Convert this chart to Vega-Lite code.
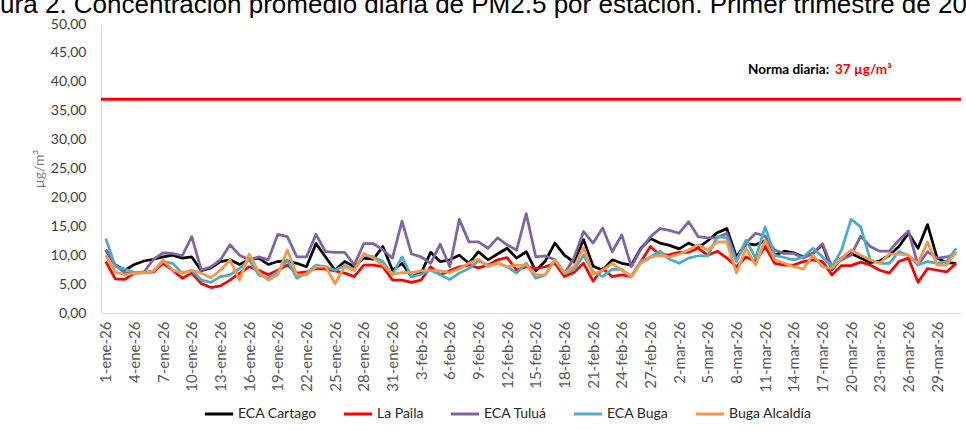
{
  "$schema": "https://vega.github.io/schema/vega-lite/v6.json",
  "width": 860,
  "height": 289,
  "autosize": {"type": "none"},
  "padding": {"left": 101, "top": 24, "right": 5, "bottom": 118},
  "background": "white",
  "title": {
    "text": "Figura 2. Concentración promedio diaria de PM2.5 por estación. Primer trimestre de 2026",
    "anchor": "start",
    "frame": "group",
    "font": "Liberation Sans",
    "fontSize": 26,
    "fontWeight": "normal",
    "color": "#000000",
    "offset": -1,
    "dx": -137
  },
  "config": {
    "view": {"stroke": null},
    "font": "Lato"
  },
  "data": {
    "values": [
      {"fecha":"1-ene-26","estacion":"ECA Cartago","valor":10.9},{"fecha":"2-ene-26","estacion":"ECA Cartago","valor":8.3},{"fecha":"3-ene-26","estacion":"ECA Cartago","valor":7.4},{"fecha":"4-ene-26","estacion":"ECA Cartago","valor":8.4},{"fecha":"5-ene-26","estacion":"ECA Cartago","valor":9.0},{"fecha":"6-ene-26","estacion":"ECA Cartago","valor":9.3},{"fecha":"7-ene-26","estacion":"ECA Cartago","valor":9.7},{"fecha":"8-ene-26","estacion":"ECA Cartago","valor":10.0},{"fecha":"9-ene-26","estacion":"ECA Cartago","valor":9.5},{"fecha":"10-ene-26","estacion":"ECA Cartago","valor":9.7},
      {"fecha":"11-ene-26","estacion":"ECA Cartago","valor":7.3},{"fecha":"12-ene-26","estacion":"ECA Cartago","valor":7.8},{"fecha":"13-ene-26","estacion":"ECA Cartago","valor":8.9},{"fecha":"14-ene-26","estacion":"ECA Cartago","valor":9.2},{"fecha":"15-ene-26","estacion":"ECA Cartago","valor":8.4},{"fecha":"16-ene-26","estacion":"ECA Cartago","valor":9.2},{"fecha":"17-ene-26","estacion":"ECA Cartago","valor":9.5},{"fecha":"18-ene-26","estacion":"ECA Cartago","valor":8.4},{"fecha":"19-ene-26","estacion":"ECA Cartago","valor":8.9},{"fecha":"20-ene-26","estacion":"ECA Cartago","valor":9.0},
      {"fecha":"21-ene-26","estacion":"ECA Cartago","valor":8.6},{"fecha":"22-ene-26","estacion":"ECA Cartago","valor":8.0},{"fecha":"23-ene-26","estacion":"ECA Cartago","valor":12.0},{"fecha":"24-ene-26","estacion":"ECA Cartago","valor":9.7},{"fecha":"25-ene-26","estacion":"ECA Cartago","valor":7.4},{"fecha":"26-ene-26","estacion":"ECA Cartago","valor":8.9},{"fecha":"27-ene-26","estacion":"ECA Cartago","valor":8.0},{"fecha":"28-ene-26","estacion":"ECA Cartago","valor":9.5},{"fecha":"29-ene-26","estacion":"ECA Cartago","valor":9.3},{"fecha":"30-ene-26","estacion":"ECA Cartago","valor":11.5},
      {"fecha":"31-ene-26","estacion":"ECA Cartago","valor":7.4},{"fecha":"1-feb-26","estacion":"ECA Cartago","valor":8.6},{"fecha":"2-feb-26","estacion":"ECA Cartago","valor":6.3},{"fecha":"3-feb-26","estacion":"ECA Cartago","valor":6.9},{"fecha":"4-feb-26","estacion":"ECA Cartago","valor":10.5},{"fecha":"5-feb-26","estacion":"ECA Cartago","valor":8.9},{"fecha":"6-feb-26","estacion":"ECA Cartago","valor":9.2},{"fecha":"7-feb-26","estacion":"ECA Cartago","valor":10.0},{"fecha":"8-feb-26","estacion":"ECA Cartago","valor":8.6},{"fecha":"9-feb-26","estacion":"ECA Cartago","valor":10.6},
      {"fecha":"10-feb-26","estacion":"ECA Cartago","valor":9.2},{"fecha":"11-feb-26","estacion":"ECA Cartago","valor":10.2},{"fecha":"12-feb-26","estacion":"ECA Cartago","valor":11.2},{"fecha":"13-feb-26","estacion":"ECA Cartago","valor":9.5},{"fecha":"14-feb-26","estacion":"ECA Cartago","valor":10.6},{"fecha":"15-feb-26","estacion":"ECA Cartago","valor":7.3},{"fecha":"16-feb-26","estacion":"ECA Cartago","valor":9.0},{"fecha":"17-feb-26","estacion":"ECA Cartago","valor":12.1},{"fecha":"18-feb-26","estacion":"ECA Cartago","valor":10.0},{"fecha":"19-feb-26","estacion":"ECA Cartago","valor":8.8},
      {"fecha":"20-feb-26","estacion":"ECA Cartago","valor":12.7},{"fecha":"21-feb-26","estacion":"ECA Cartago","valor":8.1},{"fecha":"22-feb-26","estacion":"ECA Cartago","valor":7.4},{"fecha":"23-feb-26","estacion":"ECA Cartago","valor":9.2},{"fecha":"24-feb-26","estacion":"ECA Cartago","valor":8.6},{"fecha":"25-feb-26","estacion":"ECA Cartago","valor":8.3},{"fecha":"26-feb-26","estacion":"ECA Cartago","valor":11.2},{"fecha":"27-feb-26","estacion":"ECA Cartago","valor":12.9},{"fecha":"28-feb-26","estacion":"ECA Cartago","valor":12.1},{"fecha":"1-mar-26","estacion":"ECA Cartago","valor":11.7},
      {"fecha":"2-mar-26","estacion":"ECA Cartago","valor":11.1},{"fecha":"3-mar-26","estacion":"ECA Cartago","valor":12.1},{"fecha":"4-mar-26","estacion":"ECA Cartago","valor":11.3},{"fecha":"5-mar-26","estacion":"ECA Cartago","valor":12.5},{"fecha":"6-mar-26","estacion":"ECA Cartago","valor":13.9},{"fecha":"7-mar-26","estacion":"ECA Cartago","valor":14.6},{"fecha":"8-mar-26","estacion":"ECA Cartago","valor":9.7},{"fecha":"9-mar-26","estacion":"ECA Cartago","valor":12.0},{"fecha":"10-mar-26","estacion":"ECA Cartago","valor":11.8},{"fecha":"11-mar-26","estacion":"ECA Cartago","valor":12.5},
      {"fecha":"12-mar-26","estacion":"ECA Cartago","valor":10.0},{"fecha":"13-mar-26","estacion":"ECA Cartago","valor":10.7},{"fecha":"14-mar-26","estacion":"ECA Cartago","valor":10.4},{"fecha":"15-mar-26","estacion":"ECA Cartago","valor":9.7},{"fecha":"16-mar-26","estacion":"ECA Cartago","valor":10.3},{"fecha":"17-mar-26","estacion":"ECA Cartago","valor":11.8},{"fecha":"18-mar-26","estacion":"ECA Cartago","valor":7.5},{"fecha":"19-mar-26","estacion":"ECA Cartago","valor":9.5},{"fecha":"20-mar-26","estacion":"ECA Cartago","valor":10.3},{"fecha":"21-mar-26","estacion":"ECA Cartago","valor":9.5},
      {"fecha":"22-mar-26","estacion":"ECA Cartago","valor":8.7},{"fecha":"23-mar-26","estacion":"ECA Cartago","valor":9.0},{"fecha":"24-mar-26","estacion":"ECA Cartago","valor":10.0},{"fecha":"25-mar-26","estacion":"ECA Cartago","valor":11.5},{"fecha":"26-mar-26","estacion":"ECA Cartago","valor":13.8},{"fecha":"27-mar-26","estacion":"ECA Cartago","valor":11.2},{"fecha":"28-mar-26","estacion":"ECA Cartago","valor":15.3},{"fecha":"29-mar-26","estacion":"ECA Cartago","valor":9.5},{"fecha":"30-mar-26","estacion":"ECA Cartago","valor":8.7},{"fecha":"31-mar-26","estacion":"ECA Cartago","valor":8.6},

      {"fecha":"1-ene-26","estacion":"La Paila","valor":8.9},{"fecha":"2-ene-26","estacion":"La Paila","valor":5.9},{"fecha":"3-ene-26","estacion":"La Paila","valor":5.8},{"fecha":"4-ene-26","estacion":"La Paila","valor":6.9},{"fecha":"5-ene-26","estacion":"La Paila","valor":7.0},{"fecha":"6-ene-26","estacion":"La Paila","valor":7.1},{"fecha":"7-ene-26","estacion":"La Paila","valor":8.6},{"fecha":"8-ene-26","estacion":"La Paila","valor":7.4},{"fecha":"9-ene-26","estacion":"La Paila","valor":6.0},{"fecha":"10-ene-26","estacion":"La Paila","valor":6.9},
      {"fecha":"11-ene-26","estacion":"La Paila","valor":5.1},{"fecha":"12-ene-26","estacion":"La Paila","valor":4.4},{"fecha":"13-ene-26","estacion":"La Paila","valor":4.7},{"fecha":"14-ene-26","estacion":"La Paila","valor":5.7},{"fecha":"15-ene-26","estacion":"La Paila","valor":6.9},{"fecha":"16-ene-26","estacion":"La Paila","valor":8.0},{"fecha":"17-ene-26","estacion":"La Paila","valor":7.4},{"fecha":"18-ene-26","estacion":"La Paila","valor":6.6},{"fecha":"19-ene-26","estacion":"La Paila","valor":7.4},{"fecha":"20-ene-26","estacion":"La Paila","valor":8.3},
      {"fecha":"21-ene-26","estacion":"La Paila","valor":6.9},{"fecha":"22-ene-26","estacion":"La Paila","valor":7.1},{"fecha":"23-ene-26","estacion":"La Paila","valor":7.7},{"fecha":"24-ene-26","estacion":"La Paila","valor":7.6},{"fecha":"25-ene-26","estacion":"La Paila","valor":7.3},{"fecha":"26-ene-26","estacion":"La Paila","valor":6.9},{"fecha":"27-ene-26","estacion":"La Paila","valor":6.3},{"fecha":"28-ene-26","estacion":"La Paila","valor":8.3},{"fecha":"29-ene-26","estacion":"La Paila","valor":8.3},{"fecha":"30-ene-26","estacion":"La Paila","valor":8.0},
      {"fecha":"31-ene-26","estacion":"La Paila","valor":5.7},{"fecha":"1-feb-26","estacion":"La Paila","valor":5.7},{"fecha":"2-feb-26","estacion":"La Paila","valor":5.3},{"fecha":"3-feb-26","estacion":"La Paila","valor":5.7},{"fecha":"4-feb-26","estacion":"La Paila","valor":8.0},{"fecha":"5-feb-26","estacion":"La Paila","valor":6.6},{"fecha":"6-feb-26","estacion":"La Paila","valor":7.3},{"fecha":"7-feb-26","estacion":"La Paila","valor":8.0},{"fecha":"8-feb-26","estacion":"La Paila","valor":8.3},{"fecha":"9-feb-26","estacion":"La Paila","valor":7.8},
      {"fecha":"10-feb-26","estacion":"La Paila","valor":8.3},{"fecha":"11-feb-26","estacion":"La Paila","valor":9.2},{"fecha":"12-feb-26","estacion":"La Paila","valor":9.6},{"fecha":"13-feb-26","estacion":"La Paila","valor":7.4},{"fecha":"14-feb-26","estacion":"La Paila","valor":8.0},{"fecha":"15-feb-26","estacion":"La Paila","valor":7.7},{"fecha":"16-feb-26","estacion":"La Paila","valor":8.0},{"fecha":"17-feb-26","estacion":"La Paila","valor":8.6},{"fecha":"18-feb-26","estacion":"La Paila","valor":6.3},{"fecha":"19-feb-26","estacion":"La Paila","valor":7.0},
      {"fecha":"20-feb-26","estacion":"La Paila","valor":8.6},{"fecha":"21-feb-26","estacion":"La Paila","valor":5.5},{"fecha":"22-feb-26","estacion":"La Paila","valor":7.7},{"fecha":"23-feb-26","estacion":"La Paila","valor":6.3},{"fecha":"24-feb-26","estacion":"La Paila","valor":6.6},{"fecha":"25-feb-26","estacion":"La Paila","valor":6.3},{"fecha":"26-feb-26","estacion":"La Paila","valor":8.9},{"fecha":"27-feb-26","estacion":"La Paila","valor":11.5},{"fecha":"28-feb-26","estacion":"La Paila","valor":10.0},{"fecha":"1-mar-26","estacion":"La Paila","valor":10.1},
      {"fecha":"2-mar-26","estacion":"La Paila","valor":10.5},{"fecha":"3-mar-26","estacion":"La Paila","valor":10.5},{"fecha":"4-mar-26","estacion":"La Paila","valor":11.2},{"fecha":"5-mar-26","estacion":"La Paila","valor":10.0},{"fecha":"6-mar-26","estacion":"La Paila","valor":10.7},{"fecha":"7-mar-26","estacion":"La Paila","valor":9.5},{"fecha":"8-mar-26","estacion":"La Paila","valor":8.0},{"fecha":"9-mar-26","estacion":"La Paila","valor":9.7},{"fecha":"10-mar-26","estacion":"La Paila","valor":8.9},{"fecha":"11-mar-26","estacion":"La Paila","valor":11.5},
      {"fecha":"12-mar-26","estacion":"La Paila","valor":8.6},{"fecha":"13-mar-26","estacion":"La Paila","valor":8.3},{"fecha":"14-mar-26","estacion":"La Paila","valor":8.3},{"fecha":"15-mar-26","estacion":"La Paila","valor":8.9},{"fecha":"16-mar-26","estacion":"La Paila","valor":9.2},{"fecha":"17-mar-26","estacion":"La Paila","valor":8.9},{"fecha":"18-mar-26","estacion":"La Paila","valor":6.6},{"fecha":"19-mar-26","estacion":"La Paila","valor":8.2},{"fecha":"20-mar-26","estacion":"La Paila","valor":8.2},{"fecha":"21-mar-26","estacion":"La Paila","valor":8.8},
      {"fecha":"22-mar-26","estacion":"La Paila","valor":8.3},{"fecha":"23-mar-26","estacion":"La Paila","valor":7.4},{"fecha":"24-mar-26","estacion":"La Paila","valor":6.9},{"fecha":"25-mar-26","estacion":"La Paila","valor":8.9},{"fecha":"26-mar-26","estacion":"La Paila","valor":9.5},{"fecha":"27-mar-26","estacion":"La Paila","valor":5.3},{"fecha":"28-mar-26","estacion":"La Paila","valor":7.7},{"fecha":"29-mar-26","estacion":"La Paila","valor":7.4},{"fecha":"30-mar-26","estacion":"La Paila","valor":7.1},{"fecha":"31-mar-26","estacion":"La Paila","valor":8.6},

      {"fecha":"1-ene-26","estacion":"ECA Tuluá","valor":11.0},{"fecha":"2-ene-26","estacion":"ECA Tuluá","valor":8.3},{"fecha":"3-ene-26","estacion":"ECA Tuluá","valor":6.9},{"fecha":"4-ene-26","estacion":"ECA Tuluá","valor":7.0},{"fecha":"5-ene-26","estacion":"ECA Tuluá","valor":7.1},{"fecha":"6-ene-26","estacion":"ECA Tuluá","valor":9.3},{"fecha":"7-ene-26","estacion":"ECA Tuluá","valor":10.4},{"fecha":"8-ene-26","estacion":"ECA Tuluá","valor":10.3},{"fecha":"9-ene-26","estacion":"ECA Tuluá","valor":9.9},{"fecha":"10-ene-26","estacion":"ECA Tuluá","valor":13.2},
      {"fecha":"11-ene-26","estacion":"ECA Tuluá","valor":7.4},{"fecha":"12-ene-26","estacion":"ECA Tuluá","valor":8.0},{"fecha":"13-ene-26","estacion":"ECA Tuluá","valor":9.2},{"fecha":"14-ene-26","estacion":"ECA Tuluá","valor":11.8},{"fecha":"15-ene-26","estacion":"ECA Tuluá","valor":10.0},{"fecha":"16-ene-26","estacion":"ECA Tuluá","valor":9.2},{"fecha":"17-ene-26","estacion":"ECA Tuluá","valor":9.7},{"fecha":"18-ene-26","estacion":"ECA Tuluá","valor":9.2},{"fecha":"19-ene-26","estacion":"ECA Tuluá","valor":13.6},{"fecha":"20-ene-26","estacion":"ECA Tuluá","valor":13.2},
      {"fecha":"21-ene-26","estacion":"ECA Tuluá","valor":9.7},{"fecha":"22-ene-26","estacion":"ECA Tuluá","valor":9.7},{"fecha":"23-ene-26","estacion":"ECA Tuluá","valor":13.6},{"fecha":"24-ene-26","estacion":"ECA Tuluá","valor":10.6},{"fecha":"25-ene-26","estacion":"ECA Tuluá","valor":10.5},{"fecha":"26-ene-26","estacion":"ECA Tuluá","valor":10.5},{"fecha":"27-ene-26","estacion":"ECA Tuluá","valor":8.3},{"fecha":"28-ene-26","estacion":"ECA Tuluá","valor":12.0},{"fecha":"29-ene-26","estacion":"ECA Tuluá","valor":12.0},{"fecha":"30-ene-26","estacion":"ECA Tuluá","valor":10.9},
      {"fecha":"31-ene-26","estacion":"ECA Tuluá","valor":9.5},{"fecha":"1-feb-26","estacion":"ECA Tuluá","valor":15.9},{"fecha":"2-feb-26","estacion":"ECA Tuluá","valor":10.2},{"fecha":"3-feb-26","estacion":"ECA Tuluá","valor":9.7},{"fecha":"4-feb-26","estacion":"ECA Tuluá","valor":8.6},{"fecha":"5-feb-26","estacion":"ECA Tuluá","valor":11.9},{"fecha":"6-feb-26","estacion":"ECA Tuluá","valor":8.0},{"fecha":"7-feb-26","estacion":"ECA Tuluá","valor":16.2},{"fecha":"8-feb-26","estacion":"ECA Tuluá","valor":12.3},{"fecha":"9-feb-26","estacion":"ECA Tuluá","valor":12.3},
      {"fecha":"10-feb-26","estacion":"ECA Tuluá","valor":11.2},{"fecha":"11-feb-26","estacion":"ECA Tuluá","valor":13.0},{"fecha":"12-feb-26","estacion":"ECA Tuluá","valor":11.8},{"fecha":"13-feb-26","estacion":"ECA Tuluá","valor":10.9},{"fecha":"14-feb-26","estacion":"ECA Tuluá","valor":17.2},{"fecha":"15-feb-26","estacion":"ECA Tuluá","valor":9.7},{"fecha":"16-feb-26","estacion":"ECA Tuluá","valor":9.9},{"fecha":"17-feb-26","estacion":"ECA Tuluá","valor":9.2},{"fecha":"18-feb-26","estacion":"ECA Tuluá","valor":6.8},{"fecha":"19-feb-26","estacion":"ECA Tuluá","valor":9.5},
      {"fecha":"20-feb-26","estacion":"ECA Tuluá","valor":14.1},{"fecha":"21-feb-26","estacion":"ECA Tuluá","valor":12.1},{"fecha":"22-feb-26","estacion":"ECA Tuluá","valor":14.7},{"fecha":"23-feb-26","estacion":"ECA Tuluá","valor":10.6},{"fecha":"24-feb-26","estacion":"ECA Tuluá","valor":13.5},{"fecha":"25-feb-26","estacion":"ECA Tuluá","valor":8.0},{"fecha":"26-feb-26","estacion":"ECA Tuluá","valor":11.0},{"fecha":"27-feb-26","estacion":"ECA Tuluá","valor":13.2},{"fecha":"28-feb-26","estacion":"ECA Tuluá","valor":14.6},{"fecha":"1-mar-26","estacion":"ECA Tuluá","valor":14.3},
      {"fecha":"2-mar-26","estacion":"ECA Tuluá","valor":13.8},{"fecha":"3-mar-26","estacion":"ECA Tuluá","valor":15.8},{"fecha":"4-mar-26","estacion":"ECA Tuluá","valor":13.2},{"fecha":"5-mar-26","estacion":"ECA Tuluá","valor":13.0},{"fecha":"6-mar-26","estacion":"ECA Tuluá","valor":13.0},{"fecha":"7-mar-26","estacion":"ECA Tuluá","valor":13.8},{"fecha":"8-mar-26","estacion":"ECA Tuluá","valor":9.2},{"fecha":"9-mar-26","estacion":"ECA Tuluá","valor":12.1},{"fecha":"10-mar-26","estacion":"ECA Tuluá","valor":13.8},{"fecha":"11-mar-26","estacion":"ECA Tuluá","valor":13.3},
      {"fecha":"12-mar-26","estacion":"ECA Tuluá","valor":10.9},{"fecha":"13-mar-26","estacion":"ECA Tuluá","valor":10.3},{"fecha":"14-mar-26","estacion":"ECA Tuluá","valor":10.3},{"fecha":"15-mar-26","estacion":"ECA Tuluá","valor":9.5},{"fecha":"16-mar-26","estacion":"ECA Tuluá","valor":10.3},{"fecha":"17-mar-26","estacion":"ECA Tuluá","valor":12.0},{"fecha":"18-mar-26","estacion":"ECA Tuluá","valor":8.0},{"fecha":"19-mar-26","estacion":"ECA Tuluá","valor":9.2},{"fecha":"20-mar-26","estacion":"ECA Tuluá","valor":10.0},{"fecha":"21-mar-26","estacion":"ECA Tuluá","valor":13.3},
      {"fecha":"22-mar-26","estacion":"ECA Tuluá","valor":11.5},{"fecha":"23-mar-26","estacion":"ECA Tuluá","valor":10.7},{"fecha":"24-mar-26","estacion":"ECA Tuluá","valor":10.7},{"fecha":"25-mar-26","estacion":"ECA Tuluá","valor":12.6},{"fecha":"26-mar-26","estacion":"ECA Tuluá","valor":14.2},{"fecha":"27-mar-26","estacion":"ECA Tuluá","valor":8.3},{"fecha":"28-mar-26","estacion":"ECA Tuluá","valor":10.6},{"fecha":"29-mar-26","estacion":"ECA Tuluá","valor":9.5},{"fecha":"30-mar-26","estacion":"ECA Tuluá","valor":9.7},{"fecha":"31-mar-26","estacion":"ECA Tuluá","valor":10.3},

      {"fecha":"1-ene-26","estacion":"ECA Buga","valor":12.9},{"fecha":"2-ene-26","estacion":"ECA Buga","valor":8.0},{"fecha":"3-ene-26","estacion":"ECA Buga","valor":7.6},{"fecha":"4-ene-26","estacion":"ECA Buga","valor":7.0},{"fecha":"5-ene-26","estacion":"ECA Buga","valor":7.0},{"fecha":"6-ene-26","estacion":"ECA Buga","valor":7.3},{"fecha":"7-ene-26","estacion":"ECA Buga","valor":8.9},{"fecha":"8-ene-26","estacion":"ECA Buga","valor":8.6},{"fecha":"9-ene-26","estacion":"ECA Buga","valor":6.9},{"fecha":"10-ene-26","estacion":"ECA Buga","valor":7.4},
      {"fecha":"11-ene-26","estacion":"ECA Buga","valor":5.7},{"fecha":"12-ene-26","estacion":"ECA Buga","valor":5.3},{"fecha":"13-ene-26","estacion":"ECA Buga","valor":6.3},{"fecha":"14-ene-26","estacion":"ECA Buga","valor":6.6},{"fecha":"15-ene-26","estacion":"ECA Buga","valor":7.7},{"fecha":"16-ene-26","estacion":"ECA Buga","valor":9.2},{"fecha":"17-ene-26","estacion":"ECA Buga","valor":6.6},{"fecha":"18-ene-26","estacion":"ECA Buga","valor":6.0},{"fecha":"19-ene-26","estacion":"ECA Buga","valor":7.1},{"fecha":"20-ene-26","estacion":"ECA Buga","valor":9.2},
      {"fecha":"21-ene-26","estacion":"ECA Buga","valor":6.0},{"fecha":"22-ene-26","estacion":"ECA Buga","valor":6.9},{"fecha":"23-ene-26","estacion":"ECA Buga","valor":8.3},{"fecha":"24-ene-26","estacion":"ECA Buga","valor":8.0},{"fecha":"25-ene-26","estacion":"ECA Buga","valor":7.4},{"fecha":"26-ene-26","estacion":"ECA Buga","valor":8.2},{"fecha":"27-ene-26","estacion":"ECA Buga","valor":7.4},{"fecha":"28-ene-26","estacion":"ECA Buga","valor":10.0},{"fecha":"29-ene-26","estacion":"ECA Buga","valor":9.7},{"fecha":"30-ene-26","estacion":"ECA Buga","valor":8.9},
      {"fecha":"31-ene-26","estacion":"ECA Buga","valor":6.6},{"fecha":"1-feb-26","estacion":"ECA Buga","valor":9.7},{"fecha":"2-feb-26","estacion":"ECA Buga","valor":6.3},{"fecha":"3-feb-26","estacion":"ECA Buga","valor":6.7},{"fecha":"4-feb-26","estacion":"ECA Buga","valor":7.4},{"fecha":"5-feb-26","estacion":"ECA Buga","valor":6.6},{"fecha":"6-feb-26","estacion":"ECA Buga","valor":5.8},{"fecha":"7-feb-26","estacion":"ECA Buga","valor":6.9},{"fecha":"8-feb-26","estacion":"ECA Buga","valor":7.7},{"fecha":"9-feb-26","estacion":"ECA Buga","valor":9.0},
      {"fecha":"10-feb-26","estacion":"ECA Buga","valor":8.3},{"fecha":"11-feb-26","estacion":"ECA Buga","valor":8.6},{"fecha":"12-feb-26","estacion":"ECA Buga","valor":8.0},{"fecha":"13-feb-26","estacion":"ECA Buga","valor":6.9},{"fecha":"14-feb-26","estacion":"ECA Buga","valor":8.6},{"fecha":"15-feb-26","estacion":"ECA Buga","valor":6.0},{"fecha":"16-feb-26","estacion":"ECA Buga","valor":6.6},{"fecha":"17-feb-26","estacion":"ECA Buga","valor":9.2},{"fecha":"18-feb-26","estacion":"ECA Buga","valor":6.9},{"fecha":"19-feb-26","estacion":"ECA Buga","valor":7.5},
      {"fecha":"20-feb-26","estacion":"ECA Buga","valor":10.0},{"fecha":"21-feb-26","estacion":"ECA Buga","valor":7.1},{"fecha":"22-feb-26","estacion":"ECA Buga","valor":6.3},{"fecha":"23-feb-26","estacion":"ECA Buga","valor":7.6},{"fecha":"24-feb-26","estacion":"ECA Buga","valor":7.5},{"fecha":"25-feb-26","estacion":"ECA Buga","valor":6.3},{"fecha":"26-feb-26","estacion":"ECA Buga","valor":8.9},{"fecha":"27-feb-26","estacion":"ECA Buga","valor":9.7},{"fecha":"28-feb-26","estacion":"ECA Buga","valor":10.7},{"fecha":"1-mar-26","estacion":"ECA Buga","valor":9.3},
      {"fecha":"2-mar-26","estacion":"ECA Buga","valor":8.6},{"fecha":"3-mar-26","estacion":"ECA Buga","valor":9.5},{"fecha":"4-mar-26","estacion":"ECA Buga","valor":9.9},{"fecha":"5-mar-26","estacion":"ECA Buga","valor":9.9},{"fecha":"6-mar-26","estacion":"ECA Buga","valor":13.2},{"fecha":"7-mar-26","estacion":"ECA Buga","valor":13.0},{"fecha":"8-mar-26","estacion":"ECA Buga","valor":8.9},{"fecha":"9-mar-26","estacion":"ECA Buga","valor":12.6},{"fecha":"10-mar-26","estacion":"ECA Buga","valor":9.5},{"fecha":"11-mar-26","estacion":"ECA Buga","valor":14.9},
      {"fecha":"12-mar-26","estacion":"ECA Buga","valor":10.0},{"fecha":"13-mar-26","estacion":"ECA Buga","valor":9.6},{"fecha":"14-mar-26","estacion":"ECA Buga","valor":9.2},{"fecha":"15-mar-26","estacion":"ECA Buga","valor":9.7},{"fecha":"16-mar-26","estacion":"ECA Buga","valor":11.2},{"fecha":"17-mar-26","estacion":"ECA Buga","valor":9.7},{"fecha":"18-mar-26","estacion":"ECA Buga","valor":8.0},{"fecha":"19-mar-26","estacion":"ECA Buga","valor":10.9},{"fecha":"20-mar-26","estacion":"ECA Buga","valor":16.2},{"fecha":"21-mar-26","estacion":"ECA Buga","valor":14.9},
      {"fecha":"22-mar-26","estacion":"ECA Buga","valor":9.2},{"fecha":"23-mar-26","estacion":"ECA Buga","valor":8.6},{"fecha":"24-mar-26","estacion":"ECA Buga","valor":8.6},{"fecha":"25-mar-26","estacion":"ECA Buga","valor":10.6},{"fecha":"26-mar-26","estacion":"ECA Buga","valor":10.0},{"fecha":"27-mar-26","estacion":"ECA Buga","valor":8.3},{"fecha":"28-mar-26","estacion":"ECA Buga","valor":8.9},{"fecha":"29-mar-26","estacion":"ECA Buga","valor":8.6},{"fecha":"30-mar-26","estacion":"ECA Buga","valor":8.9},{"fecha":"31-mar-26","estacion":"ECA Buga","valor":11.2},

      {"fecha":"1-ene-26","estacion":"Buga Alcaldía","valor":10.0},{"fecha":"2-ene-26","estacion":"Buga Alcaldía","valor":7.1},{"fecha":"3-ene-26","estacion":"Buga Alcaldía","valor":6.6},{"fecha":"4-ene-26","estacion":"Buga Alcaldía","valor":6.9},{"fecha":"5-ene-26","estacion":"Buga Alcaldía","valor":7.0},{"fecha":"6-ene-26","estacion":"Buga Alcaldía","valor":7.3},{"fecha":"7-ene-26","estacion":"Buga Alcaldía","valor":9.2},{"fecha":"8-ene-26","estacion":"Buga Alcaldía","valor":7.4},{"fecha":"9-ene-26","estacion":"Buga Alcaldía","valor":6.9},{"fecha":"10-ene-26","estacion":"Buga Alcaldía","valor":7.4},
      {"fecha":"11-ene-26","estacion":"Buga Alcaldía","valor":6.9},{"fecha":"12-ene-26","estacion":"Buga Alcaldía","valor":6.1},{"fecha":"13-ene-26","estacion":"Buga Alcaldía","valor":7.4},{"fecha":"14-ene-26","estacion":"Buga Alcaldía","valor":9.2},{"fecha":"15-ene-26","estacion":"Buga Alcaldía","valor":5.7},{"fecha":"16-ene-26","estacion":"Buga Alcaldía","valor":10.2},{"fecha":"17-ene-26","estacion":"Buga Alcaldía","valor":7.1},{"fecha":"18-ene-26","estacion":"Buga Alcaldía","valor":5.7},{"fecha":"19-ene-26","estacion":"Buga Alcaldía","valor":6.6},{"fecha":"20-ene-26","estacion":"Buga Alcaldía","valor":10.9},
      {"fecha":"21-ene-26","estacion":"Buga Alcaldía","valor":6.6},{"fecha":"22-ene-26","estacion":"Buga Alcaldía","valor":6.6},{"fecha":"23-ene-26","estacion":"Buga Alcaldía","valor":8.0},{"fecha":"24-ene-26","estacion":"Buga Alcaldía","valor":8.0},{"fecha":"25-ene-26","estacion":"Buga Alcaldía","valor":5.1},{"fecha":"26-ene-26","estacion":"Buga Alcaldía","valor":8.0},{"fecha":"27-ene-26","estacion":"Buga Alcaldía","valor":7.4},{"fecha":"28-ene-26","estacion":"Buga Alcaldía","valor":10.3},{"fecha":"29-ene-26","estacion":"Buga Alcaldía","valor":9.5},{"fecha":"30-ene-26","estacion":"Buga Alcaldía","valor":8.3},
      {"fecha":"31-ene-26","estacion":"Buga Alcaldía","valor":6.7},{"fecha":"1-feb-26","estacion":"Buga Alcaldía","valor":7.0},{"fecha":"2-feb-26","estacion":"Buga Alcaldía","valor":7.0},{"fecha":"3-feb-26","estacion":"Buga Alcaldía","valor":7.3},{"fecha":"4-feb-26","estacion":"Buga Alcaldía","valor":7.4},{"fecha":"5-feb-26","estacion":"Buga Alcaldía","valor":7.3},{"fecha":"6-feb-26","estacion":"Buga Alcaldía","valor":7.0},{"fecha":"7-feb-26","estacion":"Buga Alcaldía","valor":7.7},{"fecha":"8-feb-26","estacion":"Buga Alcaldía","valor":8.6},{"fecha":"9-feb-26","estacion":"Buga Alcaldía","valor":9.3},
      {"fecha":"10-feb-26","estacion":"Buga Alcaldía","valor":8.0},{"fecha":"11-feb-26","estacion":"Buga Alcaldía","valor":8.6},{"fecha":"12-feb-26","estacion":"Buga Alcaldía","valor":8.0},{"fecha":"13-feb-26","estacion":"Buga Alcaldía","valor":8.3},{"fecha":"14-feb-26","estacion":"Buga Alcaldía","valor":8.3},{"fecha":"15-feb-26","estacion":"Buga Alcaldía","valor":6.6},{"fecha":"16-feb-26","estacion":"Buga Alcaldía","valor":6.6},{"fecha":"17-feb-26","estacion":"Buga Alcaldía","valor":9.2},{"fecha":"18-feb-26","estacion":"Buga Alcaldía","valor":6.9},{"fecha":"19-feb-26","estacion":"Buga Alcaldía","valor":8.0},
      {"fecha":"20-feb-26","estacion":"Buga Alcaldía","valor":11.3},{"fecha":"21-feb-26","estacion":"Buga Alcaldía","valor":6.7},{"fecha":"22-feb-26","estacion":"Buga Alcaldía","valor":7.4},{"fecha":"23-feb-26","estacion":"Buga Alcaldía","valor":8.6},{"fecha":"24-feb-26","estacion":"Buga Alcaldía","valor":7.4},{"fecha":"25-feb-26","estacion":"Buga Alcaldía","valor":6.3},{"fecha":"26-feb-26","estacion":"Buga Alcaldía","valor":8.6},{"fecha":"27-feb-26","estacion":"Buga Alcaldía","valor":9.6},{"fecha":"28-feb-26","estacion":"Buga Alcaldía","valor":10.0},{"fecha":"1-mar-26","estacion":"Buga Alcaldía","valor":9.7},
      {"fecha":"2-mar-26","estacion":"Buga Alcaldía","valor":10.2},{"fecha":"3-mar-26","estacion":"Buga Alcaldía","valor":10.9},{"fecha":"4-mar-26","estacion":"Buga Alcaldía","valor":11.8},{"fecha":"5-mar-26","estacion":"Buga Alcaldía","valor":10.9},{"fecha":"6-mar-26","estacion":"Buga Alcaldía","valor":12.3},{"fecha":"7-mar-26","estacion":"Buga Alcaldía","valor":12.3},{"fecha":"8-mar-26","estacion":"Buga Alcaldía","valor":6.9},{"fecha":"9-mar-26","estacion":"Buga Alcaldía","valor":11.2},{"fecha":"10-mar-26","estacion":"Buga Alcaldía","valor":8.3},{"fecha":"11-mar-26","estacion":"Buga Alcaldía","valor":12.6},
      {"fecha":"12-mar-26","estacion":"Buga Alcaldía","valor":9.2},{"fecha":"13-mar-26","estacion":"Buga Alcaldía","valor":8.6},{"fecha":"14-mar-26","estacion":"Buga Alcaldía","valor":8.0},{"fecha":"15-mar-26","estacion":"Buga Alcaldía","valor":7.6},{"fecha":"16-mar-26","estacion":"Buga Alcaldía","valor":10.0},{"fecha":"17-mar-26","estacion":"Buga Alcaldía","valor":8.0},{"fecha":"18-mar-26","estacion":"Buga Alcaldía","valor":7.7},{"fecha":"19-mar-26","estacion":"Buga Alcaldía","valor":9.5},{"fecha":"20-mar-26","estacion":"Buga Alcaldía","valor":10.9},{"fecha":"21-mar-26","estacion":"Buga Alcaldía","valor":10.0},
      {"fecha":"22-mar-26","estacion":"Buga Alcaldía","valor":9.2},{"fecha":"23-mar-26","estacion":"Buga Alcaldía","valor":8.6},{"fecha":"24-mar-26","estacion":"Buga Alcaldía","valor":10.2},{"fecha":"25-mar-26","estacion":"Buga Alcaldía","valor":10.2},{"fecha":"26-mar-26","estacion":"Buga Alcaldía","valor":10.0},{"fecha":"27-mar-26","estacion":"Buga Alcaldía","valor":8.6},{"fecha":"28-mar-26","estacion":"Buga Alcaldía","valor":12.3},{"fecha":"29-mar-26","estacion":"Buga Alcaldía","valor":8.3},{"fecha":"30-mar-26","estacion":"Buga Alcaldía","valor":8.3},{"fecha":"31-mar-26","estacion":"Buga Alcaldía","valor":10.6}
    ]
  },
  "encoding": {
    "x": {
      "field": "fecha",
      "type": "ordinal",
      "sort": null,
      "axis": {
        "title": null,
        "values": ["1-ene-26","4-ene-26","7-ene-26","10-ene-26","13-ene-26","16-ene-26","19-ene-26","22-ene-26","25-ene-26","28-ene-26","31-ene-26","3-feb-26","6-feb-26","9-feb-26","12-feb-26","15-feb-26","18-feb-26","21-feb-26","24-feb-26","27-feb-26","2-mar-26","5-mar-26","8-mar-26","11-mar-26","14-mar-26","17-mar-26","20-mar-26","23-mar-26","26-mar-26","29-mar-26"],
        "labelAngle": -90,
        "labelFont": "Lato",
        "labelFontSize": 15,
        "labelColor": "#595959",
        "labelPadding": 8,
        "ticks": false,
        "grid": false,
        "domainColor": "#d9d9d9",
        "domainWidth": 1,
        "labelOverlap": false
      }
    },
    "y": {
      "field": "valor",
      "type": "quantitative",
      "scale": {"domain": [0, 50], "nice": false},
      "axis": {
        "title": "µg/m³",
        "titleFont": "Lato",
        "titleFontSize": 14,
        "titleFontWeight": "normal",
        "titleColor": "#7f7f7f",
        "titlePadding": 4,
        "values": [0, 5, 10, 15, 20, 25, 30, 35, 40, 45, 50],
        "labelExpr": "replace(format(datum.value, '.2f'), '.', ',')",
        "labelFont": "Lato",
        "labelFontSize": 14,
        "labelColor": "#404040",
        "labelPadding": 15,
        "ticks": false,
        "grid": false,
        "domainColor": "#d9d9d9",
        "domainWidth": 1
      }
    }
  },
  "layer": [
    {
      "mark": {"type": "line", "strokeWidth": 2.75, "strokeJoin": "round"},
      "encoding": {
        "color": {
          "field": "estacion",
          "type": "nominal",
          "scale": {
            "domain": ["ECA Cartago", "La Paila", "ECA Tuluá", "ECA Buga", "Buga Alcaldía"],
            "range": ["#000000", "#FF0000", "#8064A2", "#4BACC6", "#F79646"]
          },
          "legend": {
            "title": null,
            "orient": "none",
            "direction": "horizontal",
            "legendX": 102,
            "legendY": 374,
            "symbolType": "stroke",
            "symbolSize": 800,
            "symbolStrokeWidth": 3,
            "labelFont": "Lato",
            "labelFontSize": 14,
            "labelColor": "#262626",
            "labelOffset": 3,
            "columnPadding": 20
          }
        }
      }
    },
    {
      "transform": [{"filter": "datum.fecha == '1-ene-26' && datum.estacion == 'ECA Cartago'"}],
      "mark": {"type": "rule", "color": "#FF0000", "strokeWidth": 3},
      "encoding": {"y": {"datum": 37}, "x": null}
    },
    {
      "transform": [{"filter": "datum.fecha == '1-ene-26' && datum.estacion == 'ECA Cartago'"}],
      "mark": {"type": "text", "text": "Norma diaria:", "font": "Lato", "fontSize": 13.5, "fontWeight": "bold", "color": "#000000", "align": "left", "baseline": "middle", "dx": 2},
      "encoding": {"x": {"datum": "9-mar-26"}, "y": {"datum": 42}}
    },
    {
      "transform": [{"filter": "datum.fecha == '1-ene-26' && datum.estacion == 'ECA Cartago'"}],
      "mark": {"type": "text", "text": "37 µg/m³", "font": "Lato", "fontSize": 13.5, "fontWeight": "bold", "color": "#FF0000", "align": "left", "baseline": "middle", "dx": 3},
      "encoding": {"x": {"datum": "18-mar-26"}, "y": {"datum": 42}}
    }
  ]
}
